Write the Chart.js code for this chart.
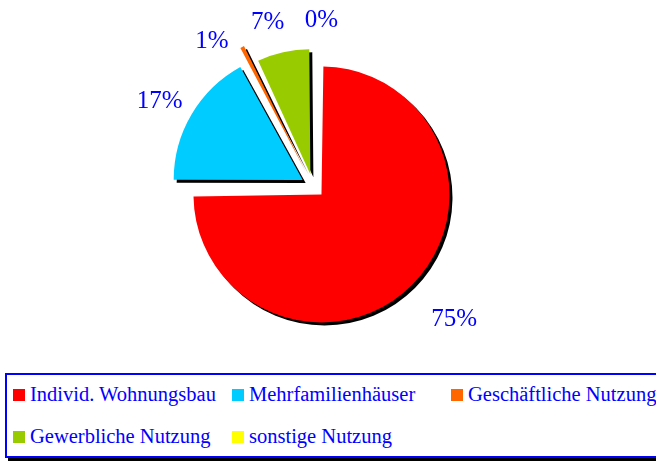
<!DOCTYPE html>
<html>
<head>
<meta charset="utf-8">
<script src="https://cdn.jsdelivr.net/npm/chart.js@4"></script>
<style>
  body { margin: 0; background: #fff; width: 656px; height: 461px; overflow: hidden; position: relative; }
  #chartBox { position: absolute; left: 0; top: 0; width: 656px; height: 370px; }
  #legend {
    position: absolute; left: 5px; top: 373px; width: 670px; height: 81px;
    border: 2px solid #0000ff; box-shadow: 3px 3px 0 #000;
    font-family: "Liberation Serif", "Times New Roman", serif; font-size: 20.5px; color: #0000ff;
  }
  .item { position: absolute; white-space: nowrap; line-height: 20px; }
  .item span.box { display: inline-block; width: 12px; height: 12px; margin-right: 5px; vertical-align: 0px; }
</style>
</head>
<body>
<div id="chartBox"><canvas id="pie"></canvas></div>
<div id="legend"></div>
<script>
const categories = ["Individ. Wohnungsbau", "Mehrfamilienhäuser", "Geschäftliche Nutzung", "Gewerbliche Nutzung", "sonstige Nutzung"]
const shares = [75, 17, 1, 7, 0]
const colors = ["#ff0000", "#00ccff", "#ff6600", "#99cc00", "#ffff00"]
// chart.js moves a slice by offset / 4 pixels
const offsets = [48, 48, 64, 48, 48]
const sliceRadius = [128, 129, 140, 125, 125]

// chart.js also grows exploded slices, so take that back out per slice
const radiusFix = {
     id: "radiusFix",
     afterDatasetUpdate(chart, args) {
          args.meta.data.forEach((arc, i) => {
               const o = offsets[i] / 4
               const fix = 1 - Math.sin(Math.min(Math.PI, arc.circumference || 0))
               arc.outerRadius = sliceRadius[i] - o * fix
          })
     }
}

const shadowPlugin = {
     id: "shadow",
     beforeDatasetsDraw(chart) {
          const ctx = chart.ctx
          ctx.save()
          ctx.shadowColor = "#000"
          ctx.shadowOffsetX = 3
          ctx.shadowOffsetY = 3
          ctx.shadowBlur = 0
     },
     afterDatasetsDraw(chart) {
          chart.ctx.restore()
     }
}

// percent labels outside the slices
const labelPlugin = {
     id: "pctLabels",
     afterDatasetsDraw(chart) {
          const ctx = chart.ctx
          const arcs = chart.getDatasetMeta(0).data
          const dist = [194, 175, 176, 170, 166]
          const shift = [-0.03, -0.03, -0.14, -0.05, 0.05]
          ctx.save()
          ctx.font = "25px 'Liberation Serif', 'Times New Roman', serif"
          ctx.fillStyle = "#0000ff"
          ctx.textAlign = "center"
          ctx.textBaseline = "middle"
          const cx = (chart.chartArea.left + chart.chartArea.right) / 2
          const cy = (chart.chartArea.top + chart.chartArea.bottom) / 2
          arcs.forEach((arc, i) => {
               const a = (arc.startAngle + arc.endAngle) / 2 + shift[i]
               const x = cx + Math.cos(a) * dist[i]
               const y = cy + Math.sin(a) * dist[i]
               ctx.fillText(shares[i] + "%", x, y)
          })
          ctx.restore()
     }
}

const pieChart = new Chart(document.getElementById("pie"), {
     type: "pie",
     data: {
          labels: categories,
          datasets: [{
               data: shares,
               backgroundColor: colors,
               borderWidth: 0,
               offset: offsets
          }]
     },
     options: {
          responsive: true,
          maintainAspectRatio: false,
          animation: false,
          layout: { padding: { left: 150, right: 180, top: 23, bottom: 21 } },
          plugins: {
               legend: { display: false },
               tooltip: { enabled: false }
          }
     },
     plugins: [radiusFix, shadowPlugin, labelPlugin]
})

// legend built from the chart's own labels
const legend = document.getElementById("legend")
const legendItems = pieChart.options.plugins.legend.labels.generateLabels(pieChart)
legendItems.forEach((item, i) => {
     const div = document.createElement("div")
     div.classList.add("item")
     div.style.left = (6 + (i % 3) * 219) + "px"
     div.style.top = (i < 3 ? 9 : 51) + "px"
     div.innerHTML = '<span class="box" style="background:' + item.fillStyle + '"></span>' + item.text
     legend.append(div)
})
</script>
</body>
</html>
